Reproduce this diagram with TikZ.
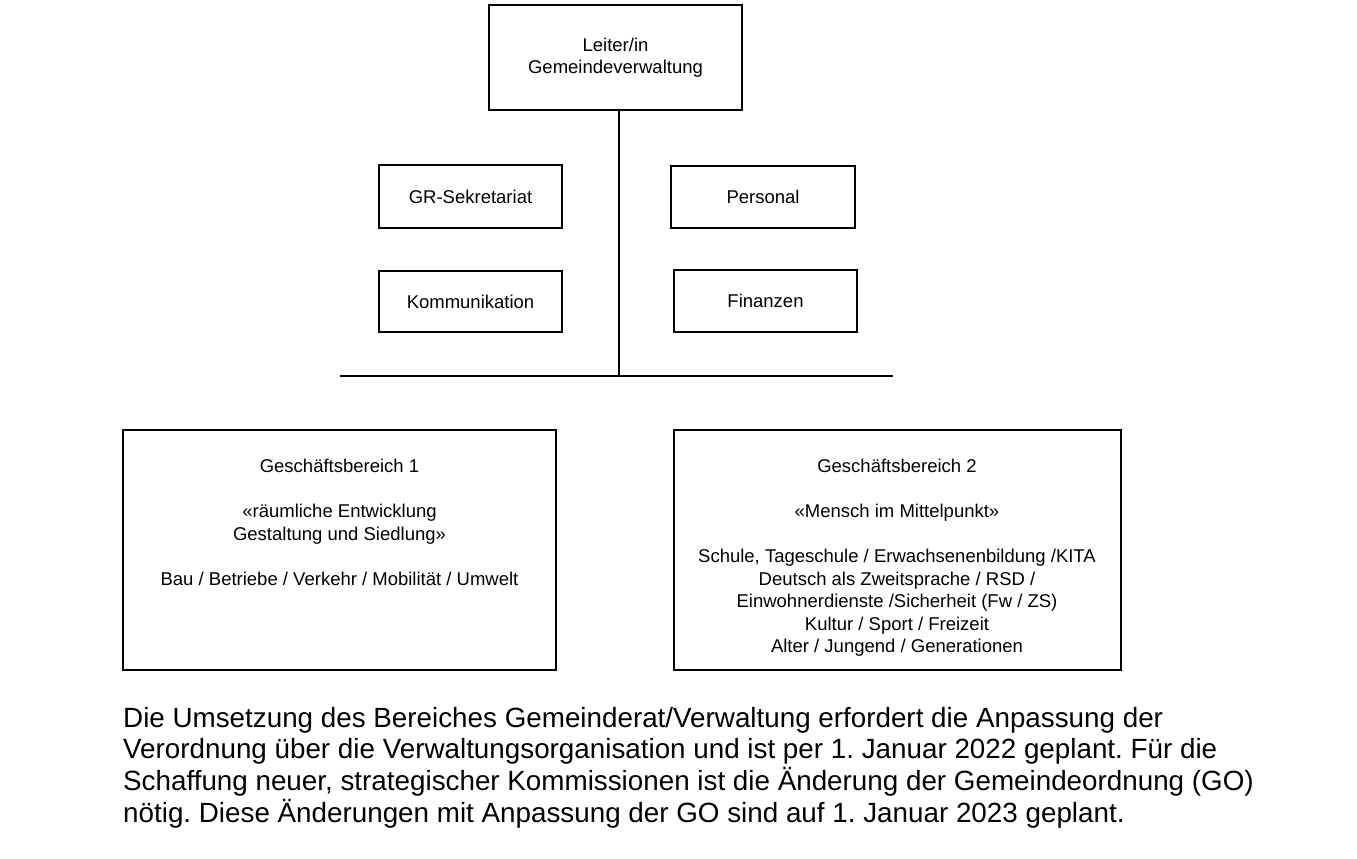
\documentclass[tikz,border=0pt]{standalone}
\usepackage{fontspec}
\setmainfont{Liberation Sans}
\begin{document}
\frenchspacing
\begin{tikzpicture}[x=1pt,y=-1pt,
  box/.style={draw=black,line width=2pt,rectangle,inner sep=0pt,align=center,
    font=\fontsize{18.5}{22.5}\selectfont},
  txt/.style={inner sep=0pt,align=center,font=\fontsize{18.5}{22.5}\selectfont},
  conn/.style={draw=black,line width=2pt}]
\useasboundingbox[fill=white] (0,0) rectangle (1357,859);
\node[box,minimum width=253pt,minimum height=105pt] (leiter) at (615.5,57.5) {Leiter/in\\Gemeindeverwaltung};
\node[box,minimum width=183pt,minimum height=63pt] (gr) at (470.5,196.5) {GR-Sekretariat};
\node[box,minimum width=184pt,minimum height=62pt] (pers) at (763,197) {Personal};
\node[box,minimum width=183pt,minimum height=61pt] (komm) at (470.5,301.5) {Kommunikation};
\node[box,minimum width=183pt,minimum height=62pt] (fin) at (765.5,301) {Finanzen};
\coordinate (hl) at (340,376);
\coordinate (hr) at (893,376);
\coordinate (hj) at (619,376);
\draw[conn] (leiter.south -| hj) -- (hj);
\draw[conn] (hl) -- (hr);
\node[box,minimum width=433pt,minimum height=240pt] (gb1) at (339.5,550) {};
\node[box,minimum width=447pt,minimum height=240pt] (gb2) at (897.5,550) {};
\node[txt] (gb1t) at (339.5,522.25) {Geschäftsbereich 1\\[22.5pt]«räumliche Entwicklung\\Gestaltung und Siedlung»\\[22.5pt]Bau / Betriebe / Verkehr / Mobilität / Umwelt};
\node[txt] (gb2t) at (897,558) {Geschäftsbereich 2\\[22.5pt]«Mensch im Mittelpunkt»\\[22.5pt]Schule, Tageschule / Erwachsenenbildung /KITA\\Deutsch als Zweitsprache / RSD /\\Einwohnerdienste /Sicherheit (Fw / ZS)\\Kultur / Sport / Freizeit\\Alter / Jungend / Generationen};
\node[inner sep=0pt,align=left,anchor=west,font=\fontsize{27.8}{31.7}\selectfont] (para) at (123,767.5) {Die Umsetzung des Bereiches Gemeinderat/Verwaltung erfordert die Anpassung der\\Verordnung über die Verwaltungsorganisation und ist per 1. Januar 2022 geplant. Für die\\Schaffung neuer, strategischer Kommissionen ist die Änderung der Gemeindeordnung (GO)\\nötig. Diese Änderungen mit Anpassung der GO sind auf 1. Januar 2023 geplant.};
\end{tikzpicture}
\end{document}
